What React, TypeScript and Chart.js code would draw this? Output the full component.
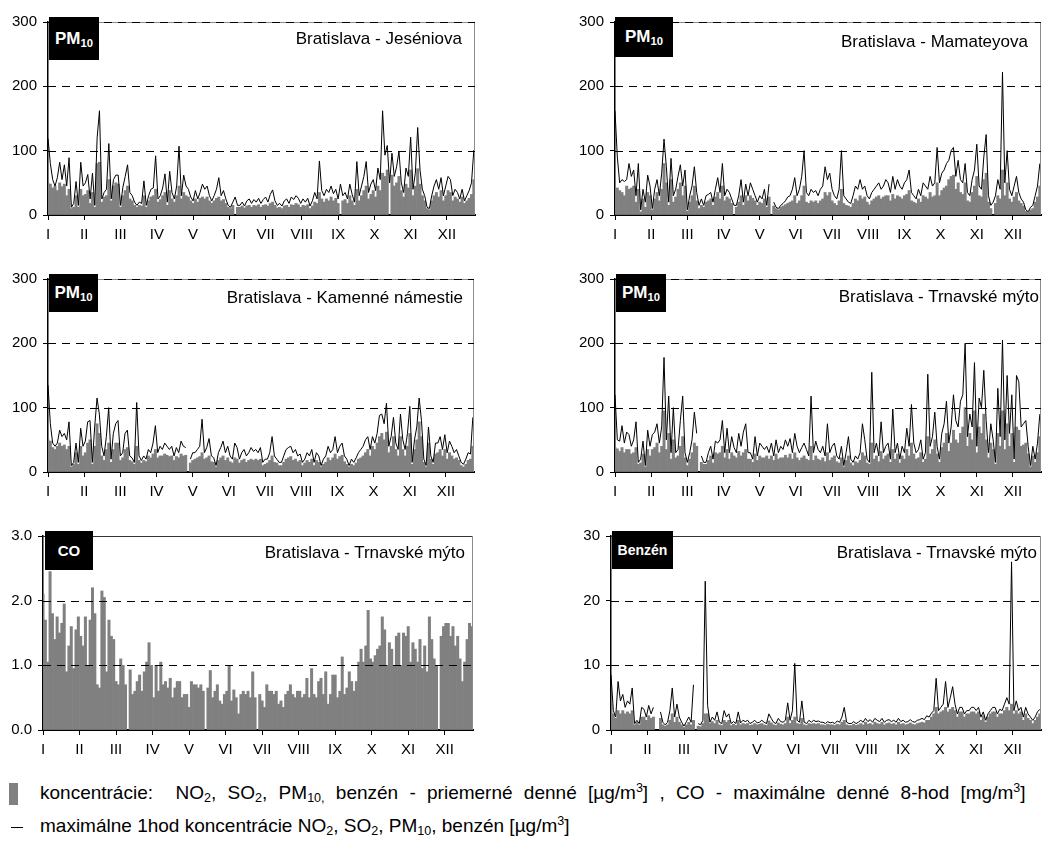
import React, { useEffect, useRef } from "react";
import { Chart, registerables } from "chart.js";

Chart.register(...registerables);

const FONT = '"Liberation Sans", Arial, Helvetica, sans-serif';
Chart.defaults.font.family = FONT;

// ---- axis categories ----
const MONTHS = ["I", "II", "III", "IV", "V", "VI", "VII", "VIII", "IX", "X", "XI", "XII"];
const MONTH_TICKS = [0, 31, 62, 93, 124, 155, 186, 217, 248, 279, 310, 341];
const SAMPLE_DAYS = Array.from({ length: 183 }, (_, i) => i * 2); // every 2nd day of the year

// ---- PM10 Bratislava - Jeséniova ----
const jesMax = [
  119, 80, 55, 45, 58, 82, 55, 78, 45, 89, 12, 18, 52, 15, 82,
  45, 50, 63, 25, 65, 15, 120, 162, 25, 35, 40, 111, 25, 55, 62,
  62, 15, 43, 60, 78, 35, 30, 20, 15, 20, 18, 53, 15, 30, 40,
  42, 92, 25, 30, 42, 64, 20, 68, 35, 25, 45, 107, 30, 62, 45,
  40, 28, 22, 38, 25, 35, 48, 40, 45, 30, 22, 30, 40, 58, 30,
  38, 25, 15, 12, 20, 28, 15, 15, 20, 14, 22, 25, 18, 24, 20,
  26, 18, 24, 28, 20, 32, 39, 22, 15, 18, 14, 22, 25, 18, 28,
  24, 30, 26, 18, 25, 20, 26, 14, 22, 35, 25, 84, 38, 30, 40,
  35, 45, 33, 40, 25, 48, 30, 35, 25, 48, 32, 20, 83, 30, 45,
  60, 83, 35, 48, 55, 38, 73, 55, 162, 93, 108, 50, 96, 60, 75,
  99, 50, 35, 73, 60, 121, 40, 65, 136, 70, 40, 30, 12, 10, 30,
  45, 55, 40, 58, 30, 45, 60, 55, 30, 40, 35, 25, 40, 22, 30, 38, 50, 101,
];
const jesAvg = [
  50, 48, 42, 45, 38, 50, 44, 48, 30, 40, 10, 12, 30, 12, 40,
  30, 32, 38, 18, 35, 12, 80, 82, 20, 28, 30, 55, 22, 45, 50,
  48, 12, 30, 38, 45, 25, 22, 15, 12, 15, 14, 30, 12, 22, 28,
  30, 40, 20, 24, 30, 35, 15, 38, 25, 20, 30, 45, 25, 35, 30,
  28, 22, 18, 25, 20, 26, 28, 25, 28, 22, 18, 22, 26, 28, 22,
  24, 18, 12, 10, 15, null, 12, 12, 14, 11, 14, 15, 12, 15, 14,
  16, 12, 15, 16, 14, 18, 20, 15, 11, 12, 10, 14, 15, 12, 16,
  15, 18, 16, 12, 15, 14, 16, 10, 14, 20, 18, 35, 25, 20, 25,
  22, 28, 22, 26, 18, null, 22, 24, 18, 30, 22, 15, 40, 22, 30,
  38, 45, 25, 32, 38, 28, 45, 38, 65, 60, 70, null, 62, 45, 50,
  60, 38, 28, 48, 42, 70, 30, 45, 72, 48, 30, 22, 10, 8, 22,
  30, 35, 28, 38, 22, 30, 38, 35, 22, 28, 25, 20, 28, 18, 22, 26, 32, 55,
];

// ---- PM10 Bratislava - Mamateyova ----
const mamMax = [
  162, 90, 50, 55, 52, 55, 80, 60, 70, 30, 80, 8, 40, 20, 62,
  45, 10, 40, 55, 30, 65, 118, 75, 20, 88, 30, 40, 60, 78, 45,
  70, 8, 30, 45, 75, 35, 15, 25, 15, 30, 32, 35, 20, 40, 58,
  35, 80, 30, 40, 35, 25, 15, 15, 30, 55, 20, 48, 30, 50, 40,
  30, 20, 30, 25, 40, 15, 48, null, 20, 12, 10, 15, 18, 22, 28,
  30, 40, 58, 30, 40, 60, 100, 35, 30, 40, 35, 38, 30, 40, 45,
  75, 55, 65, 40, 30, 25, 40, 100, 30, 25, 20, 18, 30, 45, 40,
  55, 40, 45, 30, 25, 35, 40, 45, 50, 40, 45, 55, 50, 35, 60,
  40, 55, 45, 40, 50, 55, 70, 35, 30, 25, 40, 30, 50, 45, 40,
  60, 45, 50, 105, 50, 65, 70, 80, 85, 100, 105, 60, 85, 55, 50,
  80, 35, 30, 55, 70, 110, 45, 40, 90, 125, 30, 15, 20, 30, 55,
  40, 222, 50, 100, 40, 30, 45, 60, 35, 25, 20, 8, 5, 12, 15, 30, 45, 80,
];
const mamAvg = [
  40, 42, 38, 35, 30, 45, 40, 42, 45, 20, 40, 5, 25, 12, 35,
  30, 8, 25, 35, 22, 40, 80, 50, 15, 55, 20, 28, 40, 50, 30,
  45, 6, 20, 30, 45, 22, 10, 15, 12, 20, 22, 25, 15, 28, 35,
  25, 45, 22, 28, 25, 18, null, 12, 20, 30, 15, 30, 22, 30, 26,
  22, 15, 20, 18, 25, 12, 28, null, 14, 10, 8, 12, 14, 16, 18,
  20, 22, 30, 18, 22, 30, 45, 20, 18, 22, 20, 22, 18, 22, 25,
  35, 30, 35, 22, 18, 15, 22, 40, 18, 15, 14, 12, 18, 25, 22,
  30, 25, 28, 20, 16, 22, 25, 28, 30, 25, 28, 30, 30, 22, 32,
  25, 30, 28, 25, 30, 32, 38, 22, 20, 18, 25, 20, 30, 28, 25,
  35, 28, 30, 50, 30, 38, 42, 45, 55, 60, 62, 40, 50, 35, 32,
  50, 22, 20, 35, 45, 60, 30, 28, 55, 65, 20, 10, null, 18, 30,
  25, 70, 30, 50, 25, 20, 28, 35, 22, 18, 14, 6, 4, 8, 10, 20, 28, 45,
];

// ---- PM10 Bratislava - Kamenné námestie ----
const kamMax = [
  135, 75, 45, 40, 45, 65, 55, 60, 50, 78, 10, 15, 45, 15, 68,
  40, 48, 78, 80, 15, 70, 115, 90, 40, 25, 55, 100, 20, 60, 75,
  80, 25, 30, 60, 65, 25, 22, 15, 108, 25, 18, 25, 20, 35, 30,
  45, 72, 30, 40, 35, 45, 40, 35, 40, 25, 38, 30, 48, 40, 38,
  null, 20, 30, 30, 35, 40, 82, 30, 38, 52, 25, 22, 10, 30, 38,
  48, 30, 40, 25, 20, 45, 38, 20, 30, 35, 25, 30, 38, 32, 35,
  30, 38, 15, 20, 20, 30, 55, 25, 20, 15, 15, 25, 35, 38, 40,
  30, 35, 25, 28, 15, 20, 30, 25, 35, 15, 30, 25, 10, 20, 25,
  40, 30, 35, 55, 30, 40, 45, 25, 20, 10, 20, 15, 22, 30, 35,
  40, 50, 55, 35, 55, 45, 60, 88, 90, 75, 107, 40, 55, 85, 45,
  35, 90, 50, 35, 60, 102, 15, 50, 70, 115, 80, 20, 10, 70, 25,
  15, 45, 45, 55, 35, 58, 30, 48, 40, 30, 35, 25, 15, 12, 20, 30, 28, 85,
];
const kamAvg = [
  50, 48, 38, 35, 40, 45, 40, 42, 35, 40, 8, 12, 30, 12, 40,
  25, 30, 45, 50, 12, 40, 75, 60, 25, 18, 35, 45, 15, 35, 45,
  45, 18, 22, 35, 38, 18, 16, 12, 40, 18, 14, 18, 16, 25, 22,
  28, 35, 22, 25, 25, 28, 26, 24, 25, 18, 24, 22, 28, 25, 26,
  null, 14, 18, 20, 22, 24, 30, 20, 22, 25, 16, 15, 8, 18, 22,
  25, 18, 22, 16, 14, 22, 20, 14, 18, 20, 15, 18, 20, 18, 20,
  18, 20, 10, 12, 14, 18, 25, 15, 14, 10, 10, 15, 20, 22, 24,
  18, 20, 16, 18, 10, 14, 18, 15, 20, 10, 18, 15, 8, 12, 15,
  22, 18, 22, 28, 20, 24, 26, 16, 12, 8, 12, 10, 14, 20, 22,
  25, 30, 35, 25, 40, 35, 45, 55, 60, 50, 62, 30, 40, 55, 35,
  25, 55, 35, 25, 40, 60, 12, 35, 50, 78, 55, 15, 8, 45, 20,
  12, 28, 30, 35, 25, 35, 20, 30, 25, 20, 22, 18, 10, 8, 12, 18, 20, 40,
];

// ---- PM10 Bratislava - Trnavské mýto ----
const trnMax = [
  120, 50, 48, 72, 45, 62, 58, 40, 50, 78, 15, 20, 48, 10, 65,
  40, 58, 62, 75, 45, 70, 178, 50, 118, 30, 100, 30, 35, 80, 118,
  30, 15, 30, 50, 93, 60, null, 25, 15, 15, 30, 40, 20, 48, 45,
  50, 80, 30, 68, 30, 55, 38, 30, 60, 40, 62, 75, 30, 30, 20,
  55, 25, 45, 40, 35, 40, 30, 45, 25, 50, 30, 40, 35, 50, 40,
  52, 30, 60, 40, 30, 38, 45, 35, 25, 118, 30, 48, 35, 30, 40,
  25, 75, 30, 40, 45, 25, 20, 40, 10, 30, 55, 20, 15, 25, 20,
  30, 75, 50, 20, 15, 155, 30, 45, 25, 78, 30, 40, 45, 20, 98,
  30, 45, 20, 40, 30, 68, 40, 105, 45, 30, 35, 50, 20, 30, 152,
  40, 55, 93, 40, 20, 60, 75, 110, 45, 70, 120, 80, 70, 110, 120,
  200, 55, 90, 70, 170, 40, 115, 100, 158, 80, 30, 75, 50, 15, 130,
  55, 205, 50, 150, 60, 120, 20, 150, 140, 70, 75, 80, 40, 10, 40, 20, 45, 90,
];
const trnAvg = [
  38, 36, 32, 38, 30, 35, 35, 28, 30, 38, 12, 14, 28, 8, 35,
  25, 35, 38, 45, 30, 40, 95, 35, 60, 20, 50, 22, 25, 40, 55,
  22, 10, 20, 30, 45, 40, null, 15, 12, 12, 18, 25, 14, 30, 28,
  30, 40, 22, 35, 20, 30, 25, 22, 32, 25, 30, 35, 20, 20, 15,
  28, 18, 25, 22, 22, 25, 20, 25, 18, 28, 20, 22, 22, 26, 22,
  28, 20, 30, 22, 18, 22, 25, 20, 18, 40, 18, 25, 20, 18, 22,
  16, 30, 18, 22, 25, 16, 14, 22, 8, 18, 25, 14, 10, 16, 14,
  18, 30, 25, 14, 12, 45, 20, 25, 16, 32, 20, 25, 28, 15, 35,
  20, 28, 14, 25, 20, 35, 25, 45, 28, 20, 22, 30, 15, 20, 55,
  28, 35, 50, 28, 15, 38, 45, 60, 32, 45, 65, 50, 45, 60, 70,
  100, 40, 60, 50, 95, 30, 70, 60, 90, 50, 22, 45, 35, 12, 60,
  40, 95, 35, 75, 40, 60, 15, 70, 65, 40, 42, 45, 28, 8, 25, 15, 30, 55,
];

// ---- CO Bratislava - Trnavské mýto (max daily 8-h, mg/m3) ----
const coMax8h = [
  2.1, 1.7, 1.05, 2.45, 1.8, 1.4, 1.75, 1.5, 1.65, 1.95, 0.9, 1.3, 1.6, 0.95, 1.55,
  1.75, 1.45, 1.3, 1.75, 1.0, 1.7, 2.2, 1.8, 0.7, 0.65, 2.15, 2.05, 0.9, 1.7, 1.45,
  1.4, 0.75, 0.7, 1.1, 1.0, 0.7, null, 0.93, 0.55, 0.6, 0.75, 0.85, 0.6, 0.9, 1.05,
  1.35, 1.0, 0.5, 1.0, 0.6, 1.05, 0.7, 0.75, 0.65, 0.8, 0.5, 0.65, 0.75, 0.75, 0.5,
  0.55, 0.55, 0.35, 0.75, 0.7, 0.7, 0.65, 0.7, 0.6, null, 0.65, 0.92, 0.5, 0.6, 0.7,
  0.45, 0.4, 0.55, 0.6, 1.0, 0.45, 0.62, 0.5, 0.25, 0.55, 0.6, 0.55, 0.6, 0.5, 0.9,
  0.5, null, 0.55, 0.45, 0.35, 0.7, 0.6, 0.6, 0.55, 0.6, 0.4, 0.45, 0.35, 0.55, 0.6,
  0.7, 0.55, 0.5, 0.6, 0.6, 0.5, 0.55, 0.8, 0.5, 0.95, 0.55, 0.5, 0.75, 0.8, 0.55,
  0.9, 0.4, 0.55, 0.85, 0.85, 0.5, 0.6, 1.13, 0.55, 0.65, 0.9, 0.75, 0.6, 0.75, 1.05,
  1.25, 1.05, 1.3, 1.85, 1.1, 1.05, 1.15, 1.25, 1.3, 1.75, 1.55, 1.0, 1.35, 1.25, 1.0,
  1.45, 1.5, 1.0, 1.5, 1.45, 1.6, 1.05, 1.35, 1.25, 1.05, 1.4, 0.95, 1.3, 0.9, 1.75,
  1.4, 1.1, 1.0, null, 1.45, 1.6, 1.65, 1.65, 1.45, 1.6, 1.3, 1.45, 1.1, 0.75, 1.05, 1.4, 1.65, 1.6,
];

// ---- Benzén Bratislava - Trnavské mýto ----
const benMax = [
  8.5, 3, 2, 7.5, 4.5, 5.5, 3.5, 4.5, 4, 6.5, 1, 1.5, 1, 3.5, 3.2,
  2, 3.8, 2.5, 3.5, null, null, 2.8, 1.2, 0.8, 1.2, 3, 6.5, 2, 4, 2,
  1.2, 0.6, 1.3, 2, 1.2, 7, null, 1, 0.8, 1.5, 23, 3.8, 1.2, 2, 1.5,
  2.8, 1.2, 1, 3, 2, 2.5, 1, 1.3, 1, 2.8, 1.1, 1.5, 1.3, 1.5, 1,
  1.2, 1.5, 1.1, 1.2, 1.5, 1.2, 1, 2.5, 1.8, 1.2, 1, 1.8, 1.3, 1.2, 1.5,
  4.2, 1.5, 3, 10.3, 1.5, 1.2, 4.5, 1.2, 1, 1.5, 1.2, 1.5, 1.3, 1.4, 1.2,
  1.2, 1, 1.3, 1.1, 1.2, 1, 1.4, 1.2, 2, 3.5, 1.2, 1, 1, 1.3, 1,
  1.2, 1.5, 1.2, 1.8, 1.3, 1.6, 1.2, 1.8, 1.5, 1.3, 1.8, 1.2, 1.5, 1.6, 1.3,
  1.5, 1.2, 1.8, 1.3, 1.5, 1.2, 1.3, 1.6, 1.3, 1.2, 1.5, 1.6, 1.8, 1.6, 2.2,
  2, 2.6, 3, 8, 3, 3.5, 4, 7.5, 3.5, 5, 6.7, 4, 2.5, 3.5, 3.5,
  2.5, 3, 3, 3.5, 3.5, 3, 3.5, 2, 2.8, 1.5, 2.5, 3, 3.5, 3.5, 2.5,
  3.2, 3, 4, 5, 4, 26, 3, 4.5, 3, 3.5, 2, 3.5, 2.5, 2, 1.5, 2, 2.8, 3.2,
];
const benAvg = [
  4, 2.5, 1.8, 3, 2.5, 3, 2.5, 2.8, 2.5, 3, 0.8, 1.2, 0.8, 2, 2,
  1.5, 2.2, 1.8, 2, null, null, 1.8, 0.8, 0.6, 0.8, 1.5, 2.5, 1.2, 2, 1.2,
  0.8, 0.4, 0.8, 1.2, 0.8, 1.5, null, 0.6, 0.5, 1, 2.5, 2.5, 1, 1.3, 1,
  1.5, 0.8, 0.7, 1.5, 1.2, 1.5, 0.7, 0.9, 0.7, 1.5, 0.8, 1, 0.9, 1, 0.7,
  0.8, 1, 0.8, 0.9, 1, 0.8, 0.7, 1.4, 1.1, 0.8, 0.7, 1.1, 0.9, 0.8, 1,
  2, 1, 1.5, 2, 1, 0.9, 1.8, 0.8, 0.7, 1, 0.9, 1, 0.9, 1, 0.8,
  0.8, 0.7, 0.9, 0.8, 0.8, 0.7, 0.9, 0.8, 1.2, 1.5, 0.8, 0.7, 0.7, 0.9, 0.7,
  0.8, 1, 0.8, 1.2, 0.9, 1, 0.8, 1.2, 1, 0.9, 1.2, 0.8, 1, 1.1, 0.9,
  1, 0.8, 1.2, 0.9, 1, 0.8, 0.9, 1.1, 0.9, 0.8, 1, 1.1, 1.2, 1.1, 1.5,
  1.5, 2, 2.5, 3.5, 2.5, 2.8, 3, 3.5, 2.8, 3.2, 3.5, 3, 2, 2.8, 2.8,
  2, 2.5, 2.5, 2.8, 2.8, 2.5, 2.8, 1.5, 2.2, 1.2, 2, 2.5, 2.8, 2.8, 2,
  2.5, 2.5, 3, 3.5, 3, 4, 2.5, 3, 2.5, 2.8, 1.5, 2.5, 1.8, 1.5, 1, 1.5, 2, 2.5,
];

// ---- plugin: dashed reference lines + frame ----
const panelGrid = {
  id: "panelGrid",
  afterDatasetsDraw(chart: any, _args: any, opts: any) {
    const { ctx, chartArea, scales } = chart;
    const { left, right, top, bottom } = chartArea;
    const y = scales.y;
    ctx.save();
    ctx.lineWidth = 1;
    ctx.strokeStyle = opts.dashedTop ? "#8c8c8c" : "#333";
    ctx.beginPath();
    ctx.moveTo(left, Math.round(top) + 0.5);
    ctx.lineTo(Math.round(right) - 0.5, Math.round(top) + 0.5);
    ctx.stroke();
    ctx.strokeStyle = "#8c8c8c";
    ctx.beginPath();
    ctx.moveTo(Math.round(right) - 0.5, top);
    ctx.lineTo(Math.round(right) - 0.5, bottom);
    ctx.stroke();
    ctx.strokeStyle = "#000";
    ctx.setLineDash([8, 6]);
    (opts.lines || []).forEach((v: number) => {
      const py = Math.round(y.getPixelForValue(v)) + 0.5;
      ctx.beginPath();
      ctx.moveTo(left, py);
      ctx.lineTo(right, py);
      ctx.stroke();
    });
    ctx.restore();
  },
};

type PanelProps = {
  left: number;
  top: number;
  width: number;
  height: number;
  axisW: number;
  padRight: number;
  yMax: number;
  yStep: number;
  dec: number;
  avg: (number | null)[];
  max?: (number | null)[];
  dashedTop: boolean;
};

function Panel(p: PanelProps) {
  const ref = useRef<HTMLCanvasElement | null>(null);
  useEffect(() => {
    if (!ref.current) return;
    const pts = (arr: (number | null)[]) => arr.map((v, i) => ({ x: SAMPLE_DAYS[i], y: v }));
    const datasets: any[] = [];
    if (p.max) {
      datasets.push({
        type: "line",
        data: pts(p.max),
        borderColor: "#000",
        borderWidth: 1,
        pointRadius: 0,
        tension: 0,
        spanGaps: false,
        fill: false,
        order: 0,
      });
    }
    datasets.push({
      type: "bar",
      data: pts(p.avg),
      backgroundColor: "#808080",
      borderWidth: 0,
      barPercentage: 1,
      categoryPercentage: 1,
      order: 1,
    });
    const lines: number[] = [];
    const n = Math.round(p.yMax / p.yStep);
    for (let k = 1; k <= n; k++) {
      if (k === n && !p.dashedTop) continue;
      lines.push(k * p.yStep);
    }
    const chart = new Chart(ref.current, {
      type: "bar",
      data: { datasets },
      options: {
        animation: false,
        responsive: false,
        devicePixelRatio: 1,
        layout: { padding: { top: 10, right: p.padRight, left: 0, bottom: 0 } },
        plugins: {
          legend: { display: false },
          tooltip: { enabled: false },
          panelGrid: { lines, dashedTop: p.dashedTop },
        } as any,
        scales: {
          x: {
            type: "linear",
            min: 0,
            max: 365,
            offset: false,
            z: 1,
            afterBuildTicks: (s: any) => {
              s.ticks = MONTH_TICKS.map((v) => ({ value: v }));
            },
            afterFit: (s: any) => {
              s.height = 30;
            },
            ticks: {
              autoSkip: false,
              maxRotation: 0,
              color: "#000",
              font: { size: 15 },
              padding: 6,
              callback: (v: any) => MONTHS[Math.round(Number(v) / 31)] ?? "",
            },
            grid: { display: true, drawOnChartArea: false, drawTicks: true, tickLength: 5, color: "#000", offset: false },
            border: { display: true, color: "#000", width: 2 },
          },
          y: {
            type: "linear",
            min: 0,
            max: p.yMax,
            z: 1,
            afterFit: (s: any) => {
              s.width = p.axisW;
            },
            ticks: {
              stepSize: p.yStep,
              color: "#000",
              font: { size: 15 },
              padding: 6,
              callback: (v: any) => Number(v).toFixed(p.dec),
            },
            grid: { display: true, drawOnChartArea: false, drawTicks: true, tickLength: 5, color: "#000" },
            border: { display: true, color: "#000", width: 1.5 },
          },
        },
      } as any,
      plugins: [panelGrid as any],
    });
    return () => chart.destroy();
  }, []);
  return (
    <canvas
      ref={ref}
      width={p.width}
      height={p.height}
      style={{ position: "absolute", left: p.left, top: p.top, width: p.width, height: p.height }}
    />
  );
}

function Tag(props: { left: number; top: number; w: number; h: number; fs: number; children: React.ReactNode }) {
  return (
    <div
      style={{
        position: "absolute",
        left: props.left,
        top: props.top,
        width: props.w,
        height: props.h,
        background: "#000",
        color: "#fff",
        fontWeight: "bold",
        fontSize: props.fs,
        display: "flex",
        alignItems: "center",
        justifyContent: "center",
        fontFamily: FONT,
        whiteSpace: "nowrap",
      }}
    >
      <span>{props.children}</span>
    </div>
  );
}

function Station(props: { right: number; cy: number; text: string }) {
  return (
    <div
      style={{
        position: "absolute",
        right: 1043 - props.right,
        top: props.cy - 10,
        height: 20,
        lineHeight: "20px",
        fontSize: 17,
        fontFamily: FONT,
        color: "#000",
        whiteSpace: "nowrap",
      }}
    >
      {props.text}
    </div>
  );
}

const subStyle: React.CSSProperties = { fontSize: "0.66em", verticalAlign: "-0.25em", lineHeight: 0 };
const supStyle: React.CSSProperties = { fontSize: "0.66em", verticalAlign: "0.55em", lineHeight: 0 };

export default function App() {
  return (
    <div
      style={{
        position: "absolute",
        left: 0,
        top: 0,
        width: 1043,
        height: 848,
        background: "#fff",
        fontFamily: FONT,
        overflow: "hidden",
      }}
    >
      <Panel left={0} top={7} width={490} height={238} axisW={48} padRight={15} yMax={300} yStep={100} dec={0} avg={jesAvg} max={jesMax} dashedTop={true} />
      <Panel left={560} top={7} width={483} height={238} axisW={55} padRight={2} yMax={300} yStep={100} dec={0} avg={mamAvg} max={mamMax} dashedTop={true} />
      <Panel left={0} top={264} width={490} height={238} axisW={48} padRight={16} yMax={300} yStep={100} dec={0} avg={kamAvg} max={kamMax} dashedTop={true} />
      <Panel left={560} top={264} width={483} height={238} axisW={55} padRight={2} yMax={300} yStep={100} dec={0} avg={trnAvg} max={trnMax} dashedTop={true} />
      <Panel left={0} top={521} width={490} height={239} axisW={43} padRight={17} yMax={3} yStep={1} dec={1} avg={coMax8h} dashedTop={false} />
      <Panel left={560} top={521} width={483} height={239} axisW={51} padRight={2} yMax={30} yStep={10} dec={0} avg={benAvg} max={benMax} dashedTop={false} />

      <Tag left={49} top={17} w={50} h={43} fs={17}>PM<span style={subStyle}>10</span></Tag>
      <Tag left={615} top={17} w={58} h={40} fs={17}>PM<span style={subStyle}>10</span></Tag>
      <Tag left={49} top={274} w={49} h={38} fs={17}>PM<span style={subStyle}>10</span></Tag>
      <Tag left={616} top={274} w={50} h={38} fs={17}>PM<span style={subStyle}>10</span></Tag>
      <Tag left={45} top={531} w={48} h={39} fs={15}>CO</Tag>
      <Tag left={612} top={531} w={61} h={38} fs={14}>Benzén</Tag>

      <Station right={462} cy={39} text="Bratislava - Jeséniova" />
      <Station right={1028} cy={42} text="Bratislava - Mamateyova" />
      <Station right={463} cy={298} text="Bratislava - Kamenné námestie" />
      <Station right={1039} cy={297} text="Bratislava - Trnavské mýto" />
      <Station right={465} cy={553} text="Bratislava - Trnavské mýto" />
      <Station right={1037} cy={553} text="Bratislava - Trnavské mýto" />

      <div style={{ position: "absolute", left: 9, top: 783, width: 9, height: 22, background: "#808080" }} />
      <div style={{ position: "absolute", left: 40, top: 782, height: 22, lineHeight: "22px", fontSize: 19, wordSpacing: 6, whiteSpace: "nowrap", color: "#000" }}>
        koncentrácie:&nbsp; NO<span style={subStyle}>2</span>, SO<span style={subStyle}>2</span>, PM<span style={subStyle}>10,</span> benzén - priemerné denné [µg/m<span style={supStyle}>3</span>] , CO - maximálne denné 8-hod [mg/m<span style={supStyle}>3</span>]
      </div>
      <div style={{ position: "absolute", left: 11, top: 827, width: 12, height: 1, background: "#000" }} />
      <div style={{ position: "absolute", left: 40, top: 815, height: 22, lineHeight: "22px", fontSize: 19, whiteSpace: "nowrap", color: "#000" }}>
        maximálne 1hod koncentrácie NO<span style={subStyle}>2</span>, SO<span style={subStyle}>2</span>, PM<span style={subStyle}>10</span>, benzén [µg/m<span style={supStyle}>3</span>]
      </div>
    </div>
  );
}
